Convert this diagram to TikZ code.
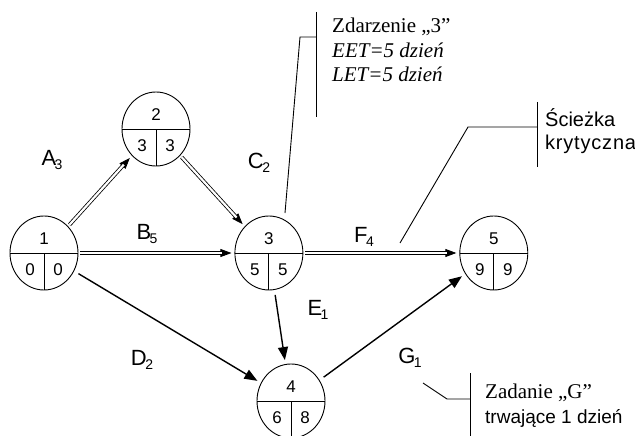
\documentclass[tikz,border=0pt]{standalone}
\usepackage{fontspec}
\setmainfont{Liberation Serif}
\newfontfamily\arialfont{Liberation Sans}
\usetikzlibrary{shapes.geometric,arrows.meta,positioning}

\newcommand{\tsk}[2]{#1\kern-1.5pt\raisebox{-4pt}{\fontsize{14}{14}\selectfont #2}}
\newcommand{\evt}[5]{%
  \node[evt,#1] (#2) {};
  \node[num] (#2-top) at ([yshift=14pt]#2.center) {#3};
  \node[num] (#2-eet) at ([xshift=-14pt,yshift=-17pt]#2.center) {#4};
  \node[num] (#2-let) at ([xshift=14pt,yshift=-17pt]#2.center) {#5};
}

\begin{document}
\begin{tikzpicture}[x=1pt,y=-1pt,
  evt/.style={ellipse,draw,line width=0.9pt,minimum width=68pt,minimum height=74pt,inner sep=0pt,
    path picture={\draw[line width=0.9pt] (path picture bounding box.west) -- (path picture bounding box.east);
      \draw[line width=0.9pt] (path picture bounding box.center) -- (path picture bounding box.south);}},
  num/.style={font=\arialfont\fontsize{17}{17}\selectfont,inner sep=0pt},
  lbl/.style={font=\arialfont\fontsize{22}{22}\selectfont,inner sep=0pt},
  crittip/.style={line width=0.8pt,-{Triangle[length=11pt,width=8pt]},shorten <=2pt,shorten >=3pt},
  crit/.style={double,double distance=2.2pt,line width=0.8pt,shorten <=2pt,shorten >=12pt},
  act/.style={line width=1.4pt,-{Triangle[length=13pt,width=10pt]},shorten <=5pt,shorten >=4pt},
  call/.style={line width=0.9pt},
  note/.style={inner sep=0pt,anchor=north west,align=left}
]
\useasboundingbox (0,0) rectangle (635,436);

% events
\evt{at={(44,253)}}{n1}{1}{0}{0}
\evt{at={(156,129)}}{n2}{2}{3}{3}
\evt{right=156pt of n1}{n3}{3}{5}{5}
\evt{at={(291,401)}}{n4}{4}{6}{8}
\evt{right=156pt of n3}{n5}{5}{9}{9}

% activities (critical ones drawn double)
\foreach \a/\b in {n1/n2,n2/n3,n1/n3,n3/n5} {
  \draw[crittip] (\a) -- (\b);
  \draw[crit] (\a) -- (\b);
}
\draw[act] (n1) -- (n4);
\draw[act] (n3) -- (n4);
\draw[act] (n4) -- (n5);

\node[lbl] (lA) at (52,160) {\tsk{A}{3}};
\node[lbl] (lB) at (147,234) {\tsk{B}{5}};
\node[lbl] (lC) at (259,163) {\tsk{C}{2}};
\node[lbl] (lD) at (142,360) {\tsk{D}{2}};
\node[lbl] (lE) at (318,310) {\tsk{E}{1}};
\node[lbl] (lF) at (364,237) {\tsk{F}{4}};
\node[lbl] (lG) at (410,358) {\tsk{G}{1}};

% callouts
\coordinate (zd-top) at (316,12);
\coordinate (zd-bot) at (316,117);
\coordinate (zd-knee) at (300,37);
\coordinate (zd-tip) at (285,213);
\draw[call] (zd-top) -- (zd-bot);
\draw[call] (zd-tip) -- (zd-knee) -- (zd-knee -| zd-top);
\node[note,font=\fontsize{21}{24.5}\selectfont] (zd) at (332,18)
  {Zdarzenie „3”\\\itshape EET=5 dzień\\\itshape LET=5 dzień};

\coordinate (sk-top) at (537,102);
\coordinate (sk-bot) at (537,167);
\coordinate (sk-knee) at (468,127);
\coordinate (sk-tip) at (400,243);
\draw[call] (sk-top) -- (sk-bot);
\draw[call] (sk-tip) -- (sk-knee) -- (sk-knee -| sk-top);
\node[note,font=\arialfont\fontsize{20}{23}\selectfont] (sk) at (545,108)
  {Ścieżka\\\addfontfeatures{LetterSpace=4}krytyczna};

\coordinate (zg-top) at (470,373);
\coordinate (zg-bot) at (470,440);
\coordinate (zg-knee) at (447,399);
\coordinate (zg-tip) at (423,383);
\draw[call] (zg-top) -- (zg-bot);
\draw[call] (zg-tip) -- (zg-knee) -- (zg-knee -| zg-top);
\node[note,font=\fontsize{21}{25}\selectfont] (zg) at (485,384)
  {Zadanie „G”\\{\arialfont\fontsize{19}{25}\selectfont trwające 1 dzień}};
\end{tikzpicture}
\end{document}
